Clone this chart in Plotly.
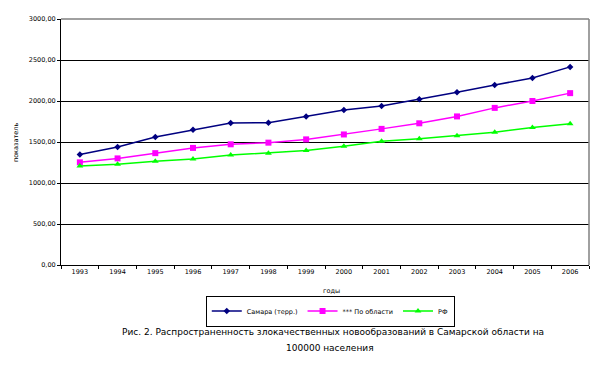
import plotly.graph_objects as go

years = ["1993", "1994", "1995", "1996", "1997", "1998", "1999", "2000",
         "2001", "2002", "2003", "2004", "2005", "2006"]
samara = [1348, 1440, 1560, 1648, 1732, 1736, 1812, 1890, 1940, 2020, 2108, 2196, 2280, 2416]
oblast = [1252, 1300, 1364, 1428, 1472, 1492, 1532, 1592, 1660, 1728, 1812, 1916, 2000, 2096]
rf = [1208, 1228, 1264, 1292, 1340, 1364, 1396, 1448, 1508, 1540, 1576, 1620, 1676, 1724]
ytick_vals = [0, 500, 1000, 1500, 2000, 2500, 3000]
ytick_text = ["0,00", "500,00", "1000,00", "1500,00", "2000,00", "2500,00", "3000,00"]
names = ["Самара (терр.)", "*** По области", "РФ"]

FONT = "DejaVu Sans, Verdana, sans-serif"
fig = go.Figure()
fig.add_trace(go.Scatter(x=years, y=samara, name=names[0], mode="lines+markers",
                         line=dict(color="#000080", width=1.5),
                         marker=dict(symbol="diamond", size=5, color="#000080")))
fig.add_trace(go.Scatter(x=years, y=oblast, name=names[1], mode="lines+markers",
                         line=dict(color="#FF00FF", width=1.5),
                         marker=dict(symbol="square", size=6, color="#FF00FF")))
fig.add_trace(go.Scatter(x=years, y=rf, name=names[2], mode="lines+markers",
                         line=dict(color="#00FF00", width=1.5),
                         marker=dict(symbol="triangle-up", size=6, color="#00FF00")))

fig.update_layout(
    width=593, height=365,
    margin=dict(l=53, r=12, t=7, b=108),
    paper_bgcolor="white", plot_bgcolor="white",
    font=dict(family=FONT, size=7, color="black"),
    showlegend=True,
    legend=dict(orientation="h", x=0.51, y=-0.124, xanchor="center", yanchor="top",
                bordercolor="black", borderwidth=1, font=dict(size=6.5, family=FONT),
                itemwidth=30, tracegroupgap=0),
    xaxis=dict(type="category", showgrid=False, showline=True, linecolor="black",
               linewidth=1, ticks="outside", ticklen=3, tickcolor="black",
               tickson="boundaries", tickfont=dict(size=6.5, family=FONT),
               range=[-0.5, 13.5], mirror=False),
    yaxis=dict(range=[0, 3000], tickvals=ytick_vals, ticktext=ytick_text,
               showgrid=True, gridcolor="black", gridwidth=1, showline=True,
               linecolor="black", linewidth=1, ticks="outside", ticklen=3,
               tickcolor="black", tickfont=dict(size=6.5, family=FONT), zeroline=False),
    shapes=[
        dict(type="line", xref="paper", yref="paper", x0=0, x1=1, y0=1, y1=1,
             line=dict(color="#808080", width=1.5)),
        dict(type="line", xref="paper", yref="paper", x0=1, x1=1, y0=0, y1=1,
             line=dict(color="#808080", width=1.5)),
    ],
    annotations=[
        dict(text="показатель", xref="paper", yref="paper", x=-0.085, y=0.5,
             textangle=-90, showarrow=False, font=dict(size=6.5, family=FONT),
             xanchor="center", yanchor="middle"),
        dict(text="годы", xref="paper", yref="paper", x=0.513, y=-0.104,
             showarrow=False, font=dict(size=6.5, family=FONT),
             xanchor="center", yanchor="middle"),
        dict(text="Рис. 2. Распространенность злокачественных новообразований в Самарской области на",
             xref="paper", yref="paper", x=0.515, y=-0.272, showarrow=False,
             font=dict(size=9, family=FONT), xanchor="center", yanchor="middle"),
        dict(text="100000 населения",
             xref="paper", yref="paper", x=0.51, y=-0.336, showarrow=False,
             font=dict(size=9, family=FONT), xanchor="center", yanchor="middle"),
    ],
)
fig.write_html("out.html")
